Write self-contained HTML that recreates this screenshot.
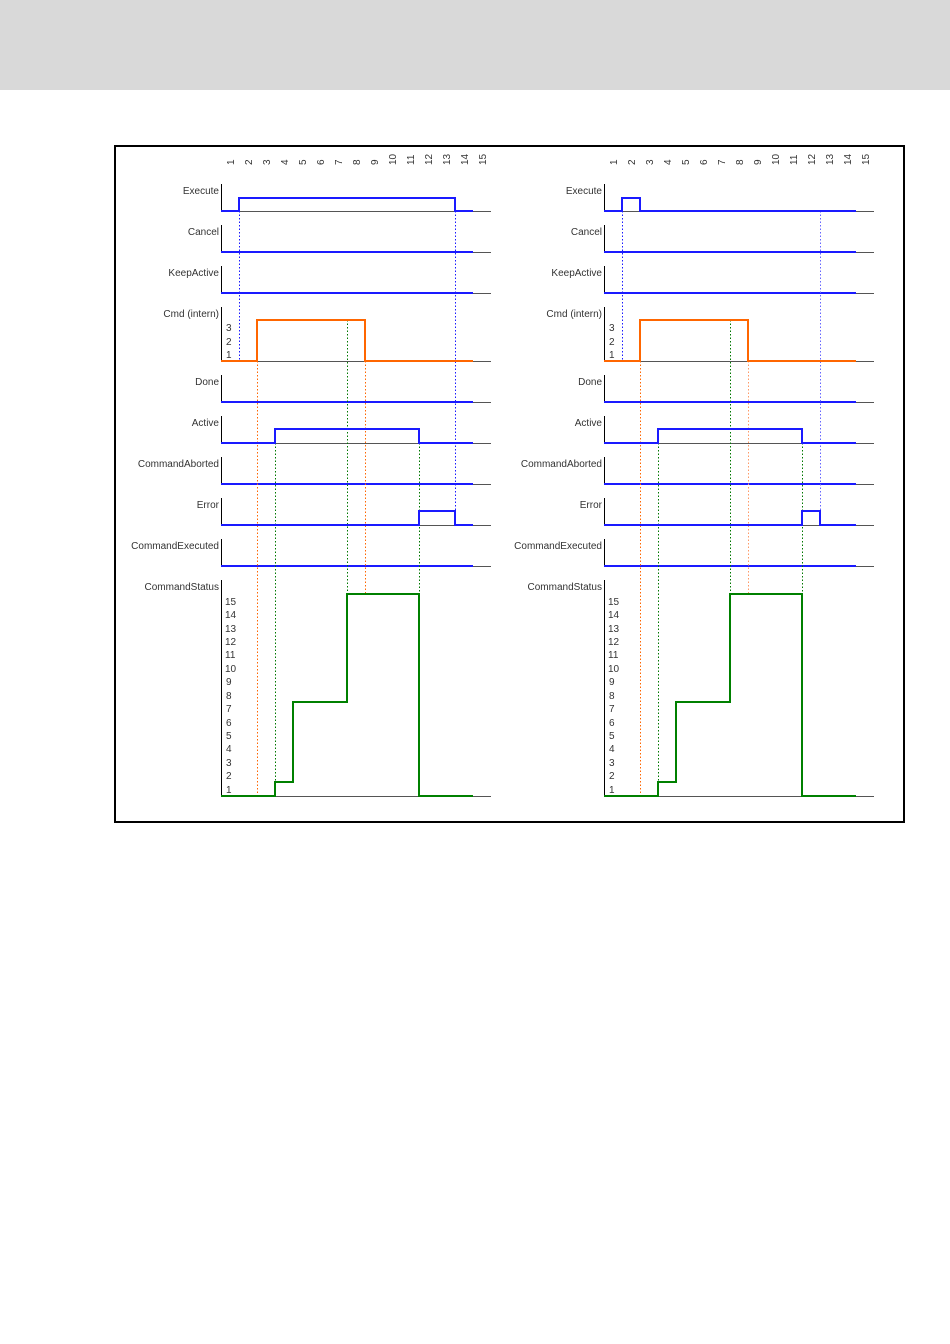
<!DOCTYPE html>
<html><head><meta charset="utf-8"><style>
html,body{margin:0;padding:0;background:#fff}
svg{display:block}
text{font-family:"Liberation Sans",sans-serif;font-size:10px;fill:#333}
</style></head><body>
<svg width="950" height="1344" viewBox="0 0 950 1344" xmlns="http://www.w3.org/2000/svg">
<rect x="0" y="0" width="950" height="90" fill="#d9d9d9"/>
<rect x="115" y="146" width="789" height="676" fill="none" stroke="#000" stroke-width="2"/>

<defs>
<g id="ticks">
<text transform="translate(234,165) rotate(-90)">1</text>
<text transform="translate(252,165) rotate(-90)">2</text>
<text transform="translate(270,165) rotate(-90)">3</text>
<text transform="translate(288,165) rotate(-90)">4</text>
<text transform="translate(306,165) rotate(-90)">5</text>
<text transform="translate(324,165) rotate(-90)">6</text>
<text transform="translate(342,165) rotate(-90)">7</text>
<text transform="translate(360,165) rotate(-90)">8</text>
<text transform="translate(378,165) rotate(-90)">9</text>
<text transform="translate(396,165) rotate(-90)">10</text>
<text transform="translate(414,165) rotate(-90)">11</text>
<text transform="translate(432,165) rotate(-90)">12</text>
<text transform="translate(450,165) rotate(-90)">13</text>
<text transform="translate(468,165) rotate(-90)">14</text>
<text transform="translate(486,165) rotate(-90)">15</text>
</g>
<g id="frame">
<g text-anchor="end">
<text x="219" y="194">Execute</text>
<text x="219" y="235">Cancel</text>
<text x="219" y="276">KeepActive</text>
<text x="219" y="317">Cmd (intern)</text>
<text x="219" y="385">Done</text>
<text x="219" y="426">Active</text>
<text x="219" y="467">CommandAborted</text>
<text x="219" y="508">Error</text>
<text x="219" y="549">CommandExecuted</text>
<text x="219" y="590">CommandStatus</text>
</g>
<g stroke="#000" stroke-width="1">
<line x1="221.5" y1="184" x2="221.5" y2="211"/>
<line x1="221.5" y1="225" x2="221.5" y2="252"/>
<line x1="221.5" y1="266" x2="221.5" y2="293"/>
<line x1="221.5" y1="307" x2="221.5" y2="361"/>
<line x1="221.5" y1="375" x2="221.5" y2="402"/>
<line x1="221.5" y1="416" x2="221.5" y2="443"/>
<line x1="221.5" y1="457" x2="221.5" y2="484"/>
<line x1="221.5" y1="498" x2="221.5" y2="525"/>
<line x1="221.5" y1="539" x2="221.5" y2="566"/>
<line x1="221.5" y1="580" x2="221.5" y2="796"/>
</g>
<g stroke="#555" stroke-width="1">
<line x1="221" y1="211.5" x2="491" y2="211.5"/>
<line x1="221" y1="252.5" x2="491" y2="252.5"/>
<line x1="221" y1="293.5" x2="491" y2="293.5"/>
<line x1="221" y1="361.5" x2="491" y2="361.5"/>
<line x1="221" y1="402.5" x2="491" y2="402.5"/>
<line x1="221" y1="443.5" x2="491" y2="443.5"/>
<line x1="221" y1="484.5" x2="491" y2="484.5"/>
<line x1="221" y1="525.5" x2="491" y2="525.5"/>
<line x1="221" y1="566.5" x2="491" y2="566.5"/>
<line x1="221" y1="796.5" x2="491" y2="796.5"/>
</g>
<g>
<text x="226" y="331">3</text><text x="226" y="345">2</text><text x="226" y="358">1</text>
<text x="225" y="605">15</text><text x="225" y="618">14</text><text x="225" y="632">13</text>
<text x="225" y="645">12</text><text x="225" y="658">11</text><text x="225" y="672">10</text>
<text x="226" y="685">9</text><text x="226" y="699">8</text><text x="226" y="712">7</text>
<text x="226" y="726">6</text><text x="226" y="739">5</text><text x="226" y="752">4</text>
<text x="226" y="766">3</text><text x="226" y="779">2</text><text x="226" y="793">1</text>
</g>
<g fill="none" stroke="#1a1aff" stroke-width="2">
<polyline points="221,252 473,252"/>
<polyline points="221,293 473,293"/>
<polyline points="221,402 473,402"/>
<polyline points="221,484 473,484"/>
<polyline points="221,566 473,566"/>
</g>
</g>
</defs>

<!-- LEFT -->
<use href="#ticks"/>
<use href="#frame"/>
<g fill="none" stroke-width="1" stroke-dasharray="1.5,2">
<line x1="239.5" y1="211" x2="239.5" y2="361" stroke="#1a1aff"/>
<line x1="455.5" y1="211" x2="455.5" y2="525" stroke="#1a1aff"/>
<line x1="257.5" y1="361" x2="257.5" y2="796" stroke="#ff6600"/>
<line x1="365.5" y1="361" x2="365.5" y2="594" stroke="#ff6600"/>
<line x1="347.5" y1="320" x2="347.5" y2="594" stroke="#007700"/>
<line x1="275.5" y1="443" x2="275.5" y2="796" stroke="#007700"/>
<line x1="419.5" y1="443" x2="419.5" y2="796" stroke="#007700"/>
</g>
<g fill="none" stroke-width="2">
<polyline stroke="#1a1aff" points="221,211 239,211 239,198 455,198 455,211 473,211"/>
<polyline stroke="#ff6600" points="221,361 257,361 257,320 365,320 365,361 473,361"/>
<polyline stroke="#1a1aff" points="221,443 275,443 275,429 419,429 419,443 473,443"/>
<polyline stroke="#1a1aff" points="221,525 419,525 419,511 455,511 455,525 473,525"/>
<polyline stroke="#008000" points="221,796 275,796 275,782 293,782 293,702 347,702 347,594 419,594 419,796 473,796"/>
</g>

<!-- RIGHT -->
<use href="#ticks" transform="translate(383,0)"/>
<use href="#frame" transform="translate(383,0)"/>
<g fill="none" stroke-width="1" stroke-dasharray="1.5,2">
<line x1="622.5" y1="211" x2="622.5" y2="361" stroke="#1a1aff"/>
<line x1="820.5" y1="211" x2="820.5" y2="525" stroke="#6666ff"/>
<line x1="640.5" y1="361" x2="640.5" y2="796" stroke="#ff6600"/>
<line x1="748.5" y1="361" x2="748.5" y2="594" stroke="#ff9966"/>
<line x1="730.5" y1="320" x2="730.5" y2="594" stroke="#007700"/>
<line x1="658.5" y1="443" x2="658.5" y2="796" stroke="#007700"/>
<line x1="802.5" y1="443" x2="802.5" y2="594" stroke="#007700"/>
</g>
<g fill="none" stroke-width="2">
<polyline stroke="#1a1aff" points="604,211 622,211 622,198 640,198 640,211 856,211"/>
<polyline stroke="#ff6600" points="604,361 640,361 640,320 748,320 748,361 856,361"/>
<polyline stroke="#1a1aff" points="604,443 658,443 658,429 802,429 802,443 856,443"/>
<polyline stroke="#1a1aff" points="604,525 802,525 802,511 820,511 820,525 856,525"/>
<polyline stroke="#008000" points="604,796 658,796 658,782 676,782 676,702 730,702 730,594 802,594 802,796 856,796"/>
</g>
</svg>
</body></html>
